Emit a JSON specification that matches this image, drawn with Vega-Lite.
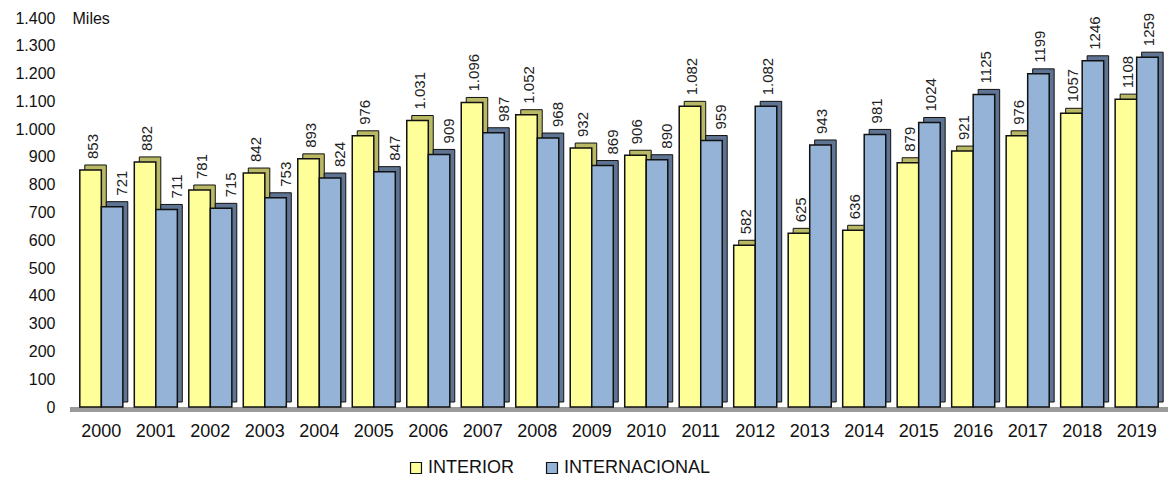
{
  "$schema": "https://vega.github.io/schema/vega-lite/v6.json",
  "autosize": {"type": "none"},
  "width": 1098,
  "height": 389,
  "padding": {"left": 70, "top": 18, "right": 6, "bottom": 75},
  "background": "white",
  "config": {
    "font": "Liberation Sans",
    "view": {"stroke": null}
  },
  "data": {"values": [
    {"year": "2000", "serie": "INTERIOR", "value": 853, "label": "853"},
    {"year": "2000", "serie": "INTERNACIONAL", "value": 721, "label": "721"},
    {"year": "2001", "serie": "INTERIOR", "value": 882, "label": "882"},
    {"year": "2001", "serie": "INTERNACIONAL", "value": 711, "label": "711"},
    {"year": "2002", "serie": "INTERIOR", "value": 781, "label": "781"},
    {"year": "2002", "serie": "INTERNACIONAL", "value": 715, "label": "715"},
    {"year": "2003", "serie": "INTERIOR", "value": 842, "label": "842"},
    {"year": "2003", "serie": "INTERNACIONAL", "value": 753, "label": "753"},
    {"year": "2004", "serie": "INTERIOR", "value": 893, "label": "893"},
    {"year": "2004", "serie": "INTERNACIONAL", "value": 824, "label": "824"},
    {"year": "2005", "serie": "INTERIOR", "value": 976, "label": "976"},
    {"year": "2005", "serie": "INTERNACIONAL", "value": 847, "label": "847"},
    {"year": "2006", "serie": "INTERIOR", "value": 1031, "label": "1.031"},
    {"year": "2006", "serie": "INTERNACIONAL", "value": 909, "label": "909"},
    {"year": "2007", "serie": "INTERIOR", "value": 1096, "label": "1.096"},
    {"year": "2007", "serie": "INTERNACIONAL", "value": 987, "label": "987"},
    {"year": "2008", "serie": "INTERIOR", "value": 1052, "label": "1.052"},
    {"year": "2008", "serie": "INTERNACIONAL", "value": 968, "label": "968"},
    {"year": "2009", "serie": "INTERIOR", "value": 932, "label": "932"},
    {"year": "2009", "serie": "INTERNACIONAL", "value": 869, "label": "869"},
    {"year": "2010", "serie": "INTERIOR", "value": 906, "label": "906"},
    {"year": "2010", "serie": "INTERNACIONAL", "value": 890, "label": "890"},
    {"year": "2011", "serie": "INTERIOR", "value": 1082, "label": "1.082"},
    {"year": "2011", "serie": "INTERNACIONAL", "value": 959, "label": "959"},
    {"year": "2012", "serie": "INTERIOR", "value": 582, "label": "582"},
    {"year": "2012", "serie": "INTERNACIONAL", "value": 1082, "label": "1.082"},
    {"year": "2013", "serie": "INTERIOR", "value": 625, "label": "625"},
    {"year": "2013", "serie": "INTERNACIONAL", "value": 943, "label": "943"},
    {"year": "2014", "serie": "INTERIOR", "value": 636, "label": "636"},
    {"year": "2014", "serie": "INTERNACIONAL", "value": 981, "label": "981"},
    {"year": "2015", "serie": "INTERIOR", "value": 879, "label": "879"},
    {"year": "2015", "serie": "INTERNACIONAL", "value": 1024, "label": "1024"},
    {"year": "2016", "serie": "INTERIOR", "value": 921, "label": "921"},
    {"year": "2016", "serie": "INTERNACIONAL", "value": 1125, "label": "1125"},
    {"year": "2017", "serie": "INTERIOR", "value": 976, "label": "976"},
    {"year": "2017", "serie": "INTERNACIONAL", "value": 1199, "label": "1199"},
    {"year": "2018", "serie": "INTERIOR", "value": 1057, "label": "1057"},
    {"year": "2018", "serie": "INTERNACIONAL", "value": 1246, "label": "1246"},
    {"year": "2019", "serie": "INTERIOR", "value": 1108, "label": "1108"},
    {"year": "2019", "serie": "INTERNACIONAL", "value": 1259, "label": "1259"}
  ]},
  "encoding": {
    "x": {
      "field": "year", "type": "nominal", "sort": null,
      "scale": {"paddingInner": 0.21, "paddingOuter": 0.18},
      "axis": {
        "title": null, "labelAngle": 0, "domain": false, "ticks": false,
        "labelFontSize": 18, "labelColor": "#111", "labelPadding": 15,
        "labelFont": "Liberation Sans"
      }
    },
    "y": {
      "field": "value", "type": "quantitative",
      "scale": {"domain": [0, 1400], "nice": false},
      "axis": {
        "values": [0, 100, 200, 300, 400, 500, 600, 700, 800, 900, 1000, 1100, 1200, 1300, 1400],
        "labelExpr": "replace(format(datum.value, ','), ',', '.')",
        "grid": false, "domain": false, "ticks": false,
        "labelFontSize": 16, "labelColor": "#111", "labelPadding": 15,
        "labelFont": "Liberation Sans",
        "title": "Miles", "titleAngle": 0, "titleAlign": "left", "titleBaseline": "middle",
        "titleX": 2, "titleY": 0, "titleFontSize": 16, "titleFontWeight": "normal",
        "titleColor": "#111", "titleFont": "Liberation Sans"
      }
    }
  },
  "layer": [
    {
      "mark": {"type": "rule", "color": "#9a9a9a", "strokeWidth": 5, "yOffset": 2.5},
      "encoding": {"y": {"datum": 0}, "x": null}
    },
    {
      "mark": {"type": "bar", "yOffset": -5, "y2Offset": -5, "stroke": "#111", "strokeWidth": 1},
      "encoding": {
        "xOffset": {"field": "serie", "type": "nominal",
          "scale": {"domain": ["INTERIOR", "INTERNACIONAL"], "range": [5, 48]}},
        "color": {
          "field": "serie", "type": "nominal",
          "scale": {"domain": ["INTERIOR", "INTERNACIONAL"], "range": ["#b9b864", "#5f7492"]},
          "legend": null
        }
      }
    },
    {
      "mark": {"type": "bar", "stroke": "#111", "strokeWidth": 1.5},
      "encoding": {
        "xOffset": {"field": "serie", "type": "nominal",
          "scale": {"domain": ["INTERIOR", "INTERNACIONAL"]}},
        "fill": {
          "field": "serie", "type": "nominal",
          "scale": {"domain": ["INTERIOR", "INTERNACIONAL"], "range": ["#FFFF99", "#95B3D7"]},
          "legend": {
            "title": null, "orient": "none", "direction": "horizontal",
            "legendX": 337, "legendY": 441,
            "symbolType": "square", "symbolSize": 120,
            "symbolStrokeColor": "#111", "symbolStrokeWidth": 1.2,
            "labelFontSize": 18, "labelColor": "#111", "labelFont": "Liberation Sans",
            "labelOffset": 3, "columnPadding": 28
          }
        }
      }
    },
    {
      "transform": [
        {"joinaggregate": [{"op": "max", "field": "value", "as": "maxv"}], "groupby": ["year"]},
        {"filter": "datum.serie === 'INTERIOR' || datum.value === datum.maxv"}
      ],
      "mark": {"type": "text", "angle": -90, "align": "left", "baseline": "middle", "dx": 11, "dy": 2, "fontSize": 15, "color": "#222"},
      "encoding": {
        "xOffset": {"field": "serie", "type": "nominal",
          "scale": {"domain": ["INTERIOR", "INTERNACIONAL"]}},
        "text": {"field": "label"}
      }
    },
    {
      "transform": [
        {"joinaggregate": [{"op": "max", "field": "value", "as": "maxv"}], "groupby": ["year"]},
        {"filter": "datum.serie === 'INTERNACIONAL' && datum.value !== datum.maxv"}
      ],
      "mark": {"type": "text", "angle": -90, "align": "left", "baseline": "middle", "dx": 11, "dy": 10, "fontSize": 15, "color": "#222"},
      "encoding": {
        "xOffset": {"field": "serie", "type": "nominal",
          "scale": {"domain": ["INTERIOR", "INTERNACIONAL"]}},
        "text": {"field": "label"}
      }
    }
  ],
  "resolve": {"scale": {"color": "independent", "fill": "independent", "xOffset": "independent"}}
}
